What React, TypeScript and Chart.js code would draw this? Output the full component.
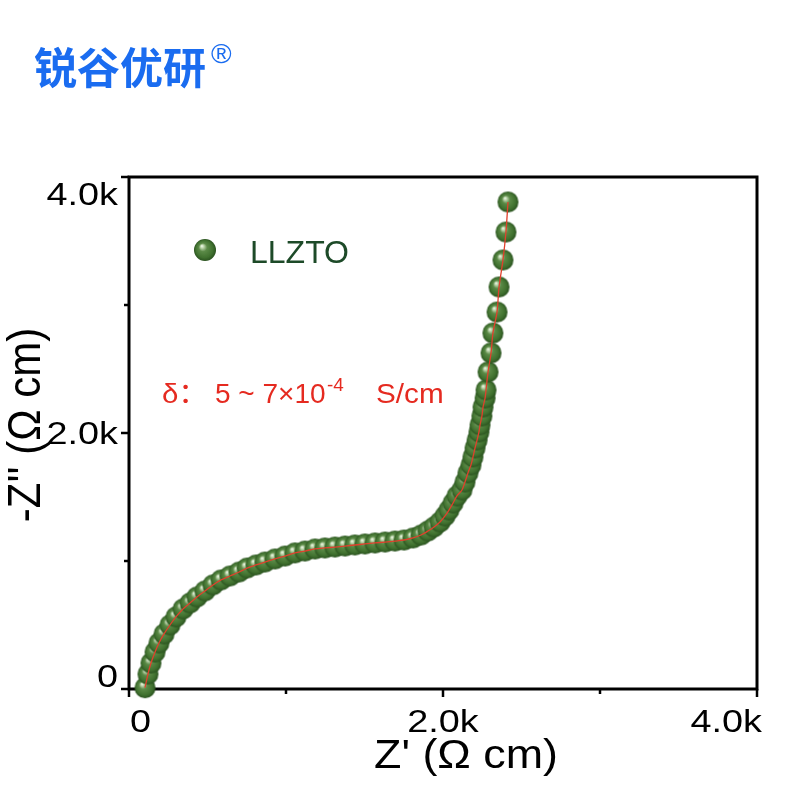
import React, { useEffect, useRef } from "react";
import { Chart, registerables } from "chart.js";

Chart.register(...registerables);

// Z' (ohm cm)
const zReal = [
  102, 121, 140, 166, 191, 223, 261, 299, 344, 389, 433, 484, 535, 586, 643, 701,
  752, 809, 866, 930, 994, 1057, 1121, 1185, 1248, 1312, 1376, 1439, 1503, 1567,
  1631, 1694, 1752, 1809, 1860, 1904, 1943, 1981, 2013, 2038, 2064, 2089, 2121,
  2140, 2159, 2178, 2191, 2204, 2217, 2229, 2236, 2248, 2255, 2268, 2274, 2287,
  2306, 2318, 2344, 2357, 2382, 2401, 2414,
];
// -Z'' (ohm cm)
const zImag = [
  10, 117, 203, 289, 359, 430, 500, 563, 625, 672, 719, 766, 813, 852, 883, 914,
  945, 969, 992, 1016, 1039, 1063, 1078, 1094, 1102, 1109, 1117, 1125, 1133, 1141,
  1148, 1156, 1164, 1180, 1203, 1234, 1266, 1305, 1352, 1398, 1453, 1508, 1555,
  1617, 1688, 1750, 1813, 1883, 1945, 2008, 2063, 2133, 2203, 2273, 2336, 2477,
  2625, 2781, 2945, 3141, 3352, 3570, 3805,
];

const majorTicks = [0, 2000, 4000];
const majorTickLabels = ["0", "2.0k", "4.0k"];
const minorTicks = [1000, 3000];

const seriesName = "LLZTO";
const xTitle = "Z' (Ω cm)";
const yTitle = "-Z'' (Ω cm)";
const brandText = "锐谷优研";
const brandMark = "®";
const noteParts = ["δ：", "5 ~ 7×10", "-4", "S/cm"];

function makeBall(r: number): HTMLCanvasElement {
  const c = document.createElement("canvas");
  const s = Math.ceil(r * 2 + 2);
  c.width = s;
  c.height = s;
  const g = c.getContext("2d")!;
  const cx = s / 2;
  const cy = s / 2;
  const grad = g.createRadialGradient(cx - 0.3 * r, cy - 0.38 * r, 0, cx, cy, r);
  grad.addColorStop(0, "#f6fff2");
  grad.addColorStop(0.14, "#c2d9b2");
  grad.addColorStop(0.38, "#5b8a47");
  grad.addColorStop(0.78, "#40712f");
  grad.addColorStop(1, "#2a521f");
  g.fillStyle = grad;
  g.beginPath();
  g.arc(cx, cy, r, 0, Math.PI * 2);
  g.fill();
  return c;
}

export default function App() {
  const ref = useRef<HTMLCanvasElement | null>(null);

  useEffect(() => {
    if (!ref.current) return;
    const ball = makeBall(10.5);
    const legendBall = makeBall(11);
    const FONT = '"Liberation Sans", Arial, sans-serif';

    const overlay = {
      id: "overlay",
      beforeDatasetsDraw(chart: any) {
        const { ctx, chartArea } = chart;
        const { left, right, top, bottom } = chartArea;
        const xs = chart.scales.x;
        const ys = chart.scales.y;
        ctx.save();
        ctx.strokeStyle = "#000";
        ctx.lineWidth = 3;
        ctx.strokeRect(left, top, right - left, bottom - top);
        ctx.lineWidth = 2.5;
        const tick = (x1: number, y1: number, x2: number, y2: number) => {
          ctx.beginPath();
          ctx.moveTo(x1, y1);
          ctx.lineTo(x2, y2);
          ctx.stroke();
        };
        majorTicks.forEach((v) => {
          const px = xs.getPixelForValue(v);
          tick(px, bottom, px, bottom + 8);
          const py = ys.getPixelForValue(v);
          tick(left - 8, py, left, py);
        });
        minorTicks.forEach((v) => {
          const px = xs.getPixelForValue(v);
          tick(px, bottom, px, bottom + 5);
          const py = ys.getPixelForValue(v);
          tick(left - 5, py, left, py);
        });
        ctx.restore();
      },
      afterDraw(chart: any) {
        const { ctx, chartArea } = chart;
        const { left, right, top, bottom } = chartArea;
        const xs = chart.scales.x;
        const ys = chart.scales.y;
        ctx.save();
        ctx.fillStyle = "#000";
        ctx.textBaseline = "alphabetic";
        const stretchText = (t: string, x: number, y: number, sx: number, align: CanvasTextAlign) => {
          ctx.save();
          ctx.translate(x, y);
          ctx.scale(sx, 1);
          ctx.textAlign = align;
          ctx.fillText(t, 0, 0);
          ctx.restore();
        };
        // tick labels
        ctx.font = `31px ${FONT}`;
        majorTicks.forEach((v, i) => {
          const lab = majorTickLabels[i];
          const py = ys.getPixelForValue(v);
          let by = py + 11;
          if (i === majorTicks.length - 1) by = py + 28;
          if (i === 0) by = py - 2;
          stretchText(lab, left - 11, by, 1.22, "right");
          const px = xs.getPixelForValue(v);
          if (i === 0) stretchText(lab, px + 1, bottom + 43, 1.22, "left");
          else if (i === majorTicks.length - 1) stretchText(lab, px + 5, bottom + 43, 1.22, "right");
          else stretchText(lab, px, bottom + 43, 1.22, "center");
        });
        // axis titles
        ctx.font = `40px ${FONT}`;
        stretchText(xTitle, (left + right) / 2 + 23, bottom + 79, 1.12, "center");
        ctx.save();
        ctx.font = `42px ${FONT}`;
        ctx.translate(40, (top + bottom) / 2 - 8);
        ctx.scale(1.1, 1);
        ctx.rotate(-Math.PI / 2);
        ctx.textAlign = "center";
        ctx.fillText(yTitle, 0, 0);
        ctx.restore();
        // legend
        ctx.drawImage(legendBall, 205 - legendBall.width / 2, 250 - legendBall.height / 2);
        ctx.fillStyle = "#1d4a28";
        ctx.font = `32px ${FONT}`;
        ctx.textAlign = "left";
        ctx.fillText(seriesName, 250, 263);
        // annotation
        ctx.fillStyle = "#e52a20";
        ctx.textAlign = "left";
        ctx.font = `28px ${FONT}, "Noto Sans CJK SC"`;
        stretchText(noteParts[0], 162, 403, 1.05, "left");
        stretchText(noteParts[1], 215, 403, 1.0, "left");
        ctx.font = `18px ${FONT}`;
        stretchText(noteParts[2], 327, 391, 1.05, "left");
        ctx.font = `28px ${FONT}`;
        stretchText(noteParts[3], 376, 403, 1.06, "left");
        // brand
        ctx.fillStyle = "#1a6cf0";
        ctx.font = `bold 43px "Noto Sans CJK SC", sans-serif`;
        ctx.fillText(brandText, 34, 84);
        ctx.font = `28px ${FONT}`;
        ctx.fillText(brandMark, 211, 63);
        ctx.restore();
      },
    };

    const pts = zReal.map((x, i) => ({ x, y: zImag[i] }));

    const chart = new Chart(ref.current, {
      type: "scatter",
      data: {
        datasets: [
          {
            label: "fit",
            data: pts,
            showLine: true,
            borderColor: "#e0402c",
            borderWidth: 1.3,
            pointRadius: 0,
            tension: 0.3,
            order: 0,
            clip: false as any,
          },
          {
            label: seriesName,
            data: pts,
            showLine: false,
            pointStyle: ball as any,
            pointRadius: 10,
            order: 1,
            clip: false as any,
          },
        ],
      },
      options: {
        animation: false,
        responsive: false,
        devicePixelRatio: 1,
        layout: { padding: { top: 177, right: 43, left: 0, bottom: 0 } },
        plugins: { legend: { display: false }, tooltip: { enabled: false } },
        scales: {
          x: {
            type: "linear",
            min: 0,
            max: 4000,
            ticks: { display: false, stepSize: 1000 },
            grid: { display: false },
            border: { display: false },
            afterFit: (s: any) => {
              s.height = 111;
            },
          },
          y: {
            type: "linear",
            min: 0,
            max: 4000,
            ticks: { display: false, stepSize: 1000 },
            grid: { display: false },
            border: { display: false },
            afterFit: (s: any) => {
              s.width = 129;
            },
          },
        },
      },
      plugins: [overlay],
    });
    return () => chart.destroy();
  }, []);

  return (
    <div style={{ position: "absolute", left: 0, top: 0, width: 800, height: 800, background: "#fff" }}>
      <canvas ref={ref} width={800} height={800} style={{ width: 800, height: 800, display: "block" }} />
    </div>
  );
}
